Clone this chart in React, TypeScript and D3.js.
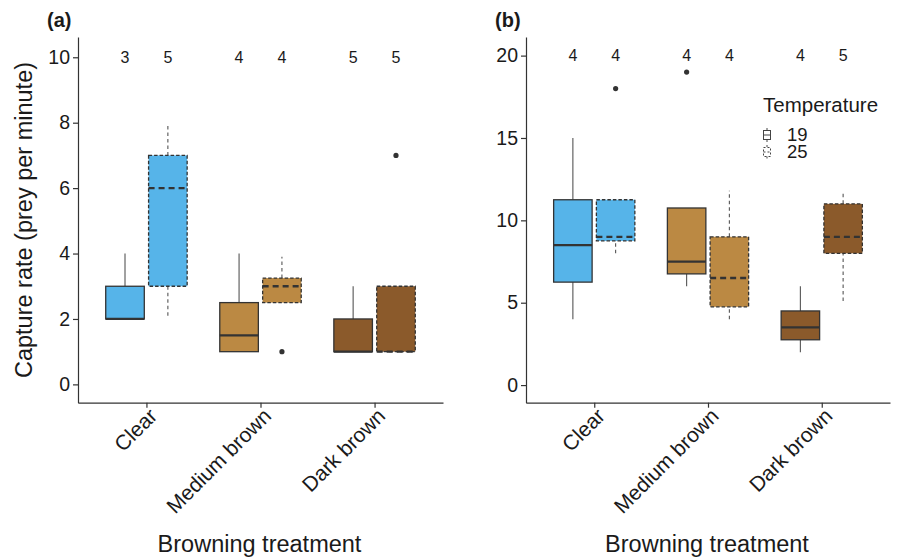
import React, { useEffect, useRef } from "react";
import * as d3 from "d3";

const categories = ["Clear", "Medium brown", "Dark brown"];
const temps = ["19", "25"];
const catFills = ["#56B4E9", "#BB8943", "#8B5A2B"];

// group order: Clear 19, Clear 25, Medium 19, Medium 25, Dark 19, Dark 25
const aLow = [2, 2.1, 1, 2.5, 1, 1];
const aQ1 = [2, 3, 1, 2.5, 1, 1];
const aMedian = [2, 6, 1.5, 3, 1, 1];
const aQ3 = [3, 7, 2.5, 3.25, 2, 3];
const aHigh = [4, 7.9, 4, 3.9, 3, 3];
const aOutliers = [[], [], [], [1], [], [7]];
const aN = [3, 5, 4, 4, 5, 5];
const aTicks = [0, 2, 4, 6, 8, 10];

const bLow = [4, 8, 6, 4, 2, 5.1];
const bQ1 = [6.25, 8.75, 6.75, 4.75, 2.75, 8];
const bMedian = [8.5, 9, 7.5, 6.5, 3.5, 9];
const bQ3 = [11.25, 11.25, 10.75, 9, 4.5, 11];
const bHigh = [15, 11.25, 10.75, 11.8, 6, 11.8];
const bOutliers = [[], [18], [19], [], [], []];
const bN = [4, 4, 4, 4, 4, 5];
const bTicks = [0, 5, 10, 15, 20];

const FONT = "'Liberation Sans', Arial, Helvetica, sans-serif";
const INK = "#1a1a1a";

function drawPanel(svg: any, o: any) {
  const g = svg.append("g");
  const x = d3.scalePoint().domain(categories).range([o.x0, o.x1]).padding(0.6);
  const half = x.step() * 0.357;
  const dodge = d3.scaleBand().domain(temps).range([-half, half]).paddingInner(0.1);
  const y = d3.scaleLinear().domain(o.yDomain).range([402.7, 37]);

  const ya = g.append("g").attr("transform", `translate(${o.x0},0)`)
    .call(d3.axisLeft(y).tickValues(o.ticks).tickSize(5).tickSizeOuter(0).tickPadding(3));
  ya.selectAll("text").style("font-size", "19.5px").style("font-family", FONT).attr("fill", INK);
  ya.selectAll("line,path").attr("stroke", "#333").attr("stroke-width", 1.2);

  const xa = g.append("g").attr("transform", `translate(0,402.7)`)
    .call(d3.axisBottom(x).tickSize(5).tickSizeOuter(0));
  xa.selectAll("line,path").attr("stroke", "#333").attr("stroke-width", 1.2);
  xa.selectAll("text")
    .style("font-size", "21px").style("font-family", FONT).attr("fill", INK)
    .attr("text-anchor", "end")
    .attr("x", 0).attr("y", 0).attr("dy", "0.71em")
    .attr("transform", "translate(1,4) rotate(-45)");

  const groups = o.median.map((m: number, i: number) => ({
    cat: categories[Math.floor(i / 2)],
    ci: Math.floor(i / 2),
    temp: temps[i % 2],
    low: o.low[i], q1: o.q1[i], med: m, q3: o.q3[i], high: o.high[i],
    out: o.outliers[i], n: o.n[i],
  }));

  const w = dodge.bandwidth();
  groups.forEach((d: any) => {
    const cx = (x(d.cat) as number) + (dodge(d.temp) as number) + w / 2;
    const dashed = d.temp === "25";
    const bg = g.append("g");
    bg.append("line").attr("x1", cx).attr("x2", cx).attr("y1", y(d.low)).attr("y2", y(d.q1))
      .attr("stroke", "#555").attr("stroke-width", 1.1).attr("stroke-dasharray", dashed ? "3.5,3" : null);
    bg.append("line").attr("x1", cx).attr("x2", cx).attr("y1", y(d.q3)).attr("y2", y(d.high))
      .attr("stroke", "#555").attr("stroke-width", 1.1).attr("stroke-dasharray", dashed ? "3.5,3" : null);
    bg.append("rect").attr("x", cx - w / 2).attr("y", y(d.q3)).attr("width", w)
      .attr("height", y(d.q1) - y(d.q3)).attr("fill", catFills[d.ci])
      .attr("stroke", "#333").attr("stroke-width", 1.3).attr("stroke-dasharray", dashed ? "3.5,2" : null);
    bg.append("line").attr("x1", cx - w / 2).attr("x2", cx + w / 2).attr("y1", y(d.med)).attr("y2", y(d.med))
      .attr("stroke", "#333").attr("stroke-width", 2.3).attr("stroke-dasharray", dashed ? "6,4" : null);
    d.out.forEach((v: number) => {
      bg.append("circle").attr("cx", cx).attr("cy", y(v)).attr("r", 2.6).attr("fill", "#333");
    });
    g.append("text").attr("x", cx).attr("y", y(o.nAt)).attr("dy", "0.36em")
      .attr("text-anchor", "middle").style("font-size", "16px").style("font-family", FONT)
      .attr("fill", INK).text(d.n);
  });

  g.append("text").attr("x", o.x0 - 31).attr("y", 27).style("font-size", "20px")
    .style("font-weight", "bold").style("font-family", FONT).attr("fill", INK).text(o.label);
  g.append("text").attr("x", (o.x0 + o.x1) / 2 - 1).attr("y", 552).attr("text-anchor", "middle")
    .style("font-size", "23.5px").style("font-family", FONT).attr("fill", INK).text("Browning treatment");
}

export default function App() {
  const ref = useRef<SVGSVGElement>(null);
  useEffect(() => {
    const svg = d3.select(ref.current);
    svg.selectAll("*").remove();
    drawPanel(svg, {
      x0: 78, x1: 443, yDomain: [-0.56, 10.62], ticks: aTicks, nAt: 10, label: "(a)",
      low: aLow, q1: aQ1, median: aMedian, q3: aQ3, high: aHigh, outliers: aOutliers, n: aN,
    });
    drawPanel(svg, {
      x0: 526, x1: 890, yDomain: [-1.07, 21.13], ticks: bTicks, nAt: 20, label: "(b)",
      low: bLow, q1: bQ1, median: bMedian, q3: bQ3, high: bHigh, outliers: bOutliers, n: bN,
    });

    svg.append("text").attr("transform", "translate(32,220) rotate(-90)").attr("text-anchor", "middle")
      .style("font-size", "23.5px").style("font-family", FONT).attr("fill", INK)
      .text("Capture rate (prey per minute)");

    // legend
    const lg = svg.append("g").attr("transform", "translate(763,0)");
    lg.append("text").attr("x", 0).attr("y", 112).style("font-size", "20.5px").style("font-family", FONT)
      .attr("fill", INK).text("Temperature");
    temps.forEach((t, i) => {
      const top = 128 + i * 17;
      const dashed = t === "25";
      const k = lg.append("g").attr("fill", "none").attr("stroke", "#444").attr("stroke-width", 1)
        .attr("stroke-dasharray", dashed ? "2,2" : null);
      k.append("line").attr("x1", 4).attr("x2", 4).attr("y1", top).attr("y2", top + 2.5);
      k.append("line").attr("x1", 4).attr("x2", 4).attr("y1", top + 11.5).attr("y2", top + 14);
      k.append("rect").attr("x", 0.5).attr("y", top + 2.5).attr("width", 7).attr("height", 9);
      k.append("line").attr("x1", 0.5).attr("x2", 7.5).attr("y1", top + 7).attr("y2", top + 7);
      lg.append("text").attr("x", 24).attr("y", top + 13).style("font-size", "18.5px")
        .style("font-family", FONT).attr("fill", INK).text(t);
    });
  }, []);
  return (
    <div style={{ position: "absolute", left: 0, top: 0 }}>
      <svg ref={ref} width={897} height={560} style={{ display: "block", background: "#fff" }} />
    </div>
  );
}
